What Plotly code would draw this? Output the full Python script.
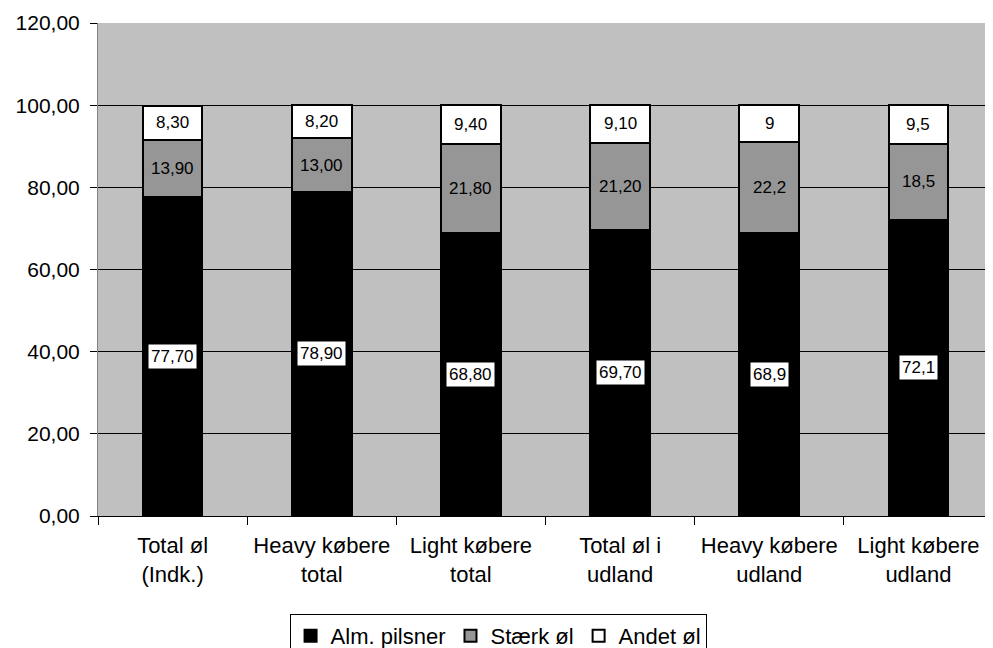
import plotly.graph_objects as go

categories = ["Total øl<br>(Indk.)", "Heavy købere<br>total", "Light købere<br>total",
              "Total øl i<br>udland", "Heavy købere<br>udland", "Light købere<br>udland"]
alm = [77.70, 78.90, 68.80, 69.70, 68.9, 72.1]
staerk = [13.90, 13.00, 21.80, 21.20, 22.2, 18.5]
andet = [8.30, 8.20, 9.40, 9.10, 9, 9.5]
alm_labels = ["77,70", "78,90", "68,80", "69,70", "68,9", "72,1"]
staerk_labels = ["13,90", "13,00", "21,80", "21,20", "22,2", "18,5"]
andet_labels = ["8,30", "8,20", "9,40", "9,10", "9", "9,5"]

series = [
    ("Alm. pilsner", alm, "#000000"),
    ("Stærk øl", staerk, "#969696"),
    ("Andet øl", andet, "#FFFFFF"),
]

fig = go.Figure()
for name, vals, col in series:
    fig.add_trace(go.Bar(
        x=categories, y=vals, name=name,
        marker=dict(color=col, line=dict(color="#000000", width=2)),
        width=0.40,
    ))

label_font = dict(family="Liberation Sans, Arial", size=17, color="#000000")
for i, cat in enumerate(categories):
    base = 0
    for vals, labels, boxed in [(alm, alm_labels, True), (staerk, staerk_labels, False), (andet, andet_labels, False)]:
        fig.add_annotation(
            x=cat, y=base + vals[i] / 2, text=labels[i], showarrow=False,
            font=label_font,
            bgcolor="#FFFFFF" if boxed else "rgba(0,0,0,0)",
            borderpad=2,
        )
        base += vals[i]

fig.update_layout(
    barmode="stack",
    width=985, height=660,
    margin=dict(l=90, r=0, t=15, b=152),
    paper_bgcolor="#FFFFFF",
    plot_bgcolor="#C0C0C0",
    separators=",.",
    font=dict(family="Liberation Sans, Arial", size=21, color="#000000"),
    legend=dict(
        orientation="h", x=0.447, xanchor="center", y=-0.1988, yanchor="top",
        bordercolor="#000000", borderwidth=1, font=dict(size=22),
        traceorder="normal",
    ),
)
fig.update_yaxes(
    range=[0, 120], dtick=20, tickformat=".2f",
    showgrid=True, gridcolor="#000000", gridwidth=1,
    showline=True, linecolor="#808080", linewidth=1,
    ticks="outside", ticklen=7, tickcolor="#000000", ticklabelstandoff=6,
    zeroline=False, tickfont=dict(size=21), automargin=False,
)
fig.update_xaxes(
    showline=True, linecolor="#000000", linewidth=1,
    ticks="outside", ticklen=8, tickcolor="#000000", tickson="boundaries",
    ticklabelstandoff=10,
    tickfont=dict(size=22), automargin=False,
)

fig.write_html("out.html")
